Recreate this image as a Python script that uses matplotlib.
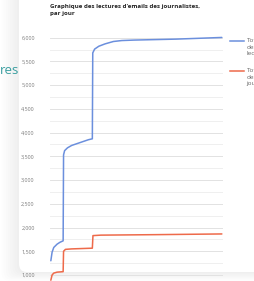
import numpy as np
import matplotlib
matplotlib.use("Agg")
import matplotlib.pyplot as plt
from matplotlib.patches import FancyBboxPatch
from matplotlib.lines import Line2D

# ── Data ──────────────────────────────────────────────────────────────────────
days_blue = [0, 0.3, 0.7, 1.5, 2.2, 2.95, 3.05, 3.3, 4.0, 5.0, 7.0, 9.0, 9.95,
             10.05, 10.5, 11.5, 13.0, 15.0, 17.0, 20.0, 30.0, 41.0]
reads_total = [1300, 1480, 1580, 1650, 1690, 1720, 3530, 3620, 3680, 3730, 3790,
               3850, 3870, 5680, 5760, 5820, 5870, 5920, 5940, 5950, 5970, 6005]

days_red = [0, 0.3, 0.7, 1.5, 2.95, 3.05, 3.5, 5.0, 9.95, 10.1, 12.0, 25.0, 41.0]
journalists_total = [890, 1000, 1040, 1060, 1070, 1500, 1540, 1550, 1565,
                     1830, 1840, 1850, 1865]

y_ticks = [1000, 1500, 2000, 2500, 3000, 3500, 4000, 4500, 5000, 5500, 6000]
legend_labels = ["Total\ndes\nlectures", "Total\ndes\njournalistes"]

BLUE = "#6b8fdd"
RED = "#ee6a4a"
W, H = 255, 281

fig = plt.figure(figsize=(W / 100, H / 100), dpi=100)
fig.patch.set_facecolor("white")

# ── Card background with soft shadow ──────────────────────────────────────────
for i in range(8):
    pad = (8 - i) * 2.2
    fig.add_artist(FancyBboxPatch(((19 - pad) / W, (9 - pad * 0.5) / H), 300 / W, 320 / H,
                                  boxstyle="round,pad=0,rounding_size=0.03",
                                  transform=fig.transFigure, facecolor="#000000",
                                  edgecolor="none", alpha=0.008, zorder=0))
fig.add_artist(FancyBboxPatch((19 / W, 9 / H), 300 / W, 320 / H,
                              boxstyle="round,pad=0,rounding_size=0.03",
                              transform=fig.transFigure, facecolor="white",
                              edgecolor="none", zorder=0.5))

fig.text(0 / W, 1 - 74 / H, "res", fontsize=9.5, color="#3a9ea0",
         family="Open Sans", ha="left", va="baseline")

# ── Chart ─────────────────────────────────────────────────────────────────────
ymin, ymax = 750, 6100
px_per_unit = 237.3 / 5000
top_px = 37.7 - (ymax - 6000) * px_per_unit
bot_px = 275 + (1000 - ymin) * px_per_unit
ax = fig.add_axes([50 / W, 1 - bot_px / H, 172.7 / W, (bot_px - top_px) / H])
ax.set_facecolor("none")
ax.set_zorder(2)

ax.plot(days_blue, reads_total, color=BLUE, lw=1.1, solid_capstyle="round")
ax.plot(days_red, journalists_total, color=RED, lw=1.1, solid_capstyle="round")

ax.set_xlim(-0.2, 41.2)
ax.set_ylim(ymin, ymax)
ax.set_yticks(y_ticks)
ax.set_yticks(np.array(y_ticks[:-1]) + 250, minor=True)
ax.yaxis.set_major_formatter(matplotlib.ticker.FuncFormatter(lambda v, _: f"{int(v):,}"))
ax.tick_params(axis="y", which="both", length=0, pad=11, labelsize=3.9,
               labelcolor="#7a7a7a")
for lab in ax.get_yticklabels():
    lab.set_family("Open Sans")
ax.set_xticks([])
ax.grid(axis="y", which="major", color="#e2e2e2", lw=0.7)
ax.grid(axis="y", which="minor", color="#efefef", lw=0.7)
ax.set_axisbelow(True)
for s in ax.spines.values():
    s.set_visible(False)

fig.text(50 / W, 1 - 15 / H, "Graphique des lectures d'emails des journalistes,\npar jour",
         fontsize=4.45, fontweight="bold", color="#222222", family="Open Sans",
         ha="left", va="baseline", linespacing=1.55)

# ── Legend (cut by the right edge, as in the page) ────────────────────────────
for (y_px, color, label) in [(41, BLUE, legend_labels[0]), (71, RED, legend_labels[1])]:
    fig.add_artist(Line2D([230 / W, 244 / W], [1 - y_px / H] * 2, color=color, lw=1.1,
                          transform=fig.transFigure, zorder=3))
    fig.text(246.5 / W, 1 - (y_px - 3) / H, label, fontsize=4.6, color="#666666",
             family="Open Sans", ha="left", va="top", linespacing=1.4, zorder=3)

fig.savefig("out.png", dpi=100)
